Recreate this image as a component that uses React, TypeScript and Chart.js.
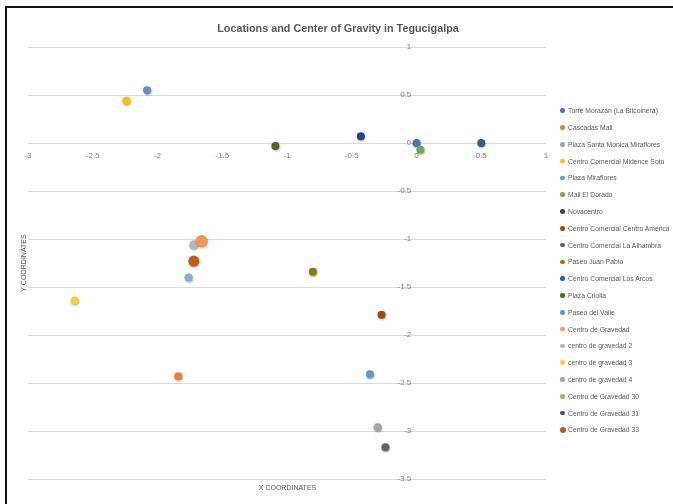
import React, { useEffect, useRef } from "react";
import { Chart, registerables } from "chart.js";

Chart.register(...registerables);

// ---- chart content ----
const CHART_TITLE = "Locations and Center of Gravity in Tegucigalpa";
const X_AXIS_TITLE = "X COORDINATES";
const Y_AXIS_TITLE = "Y COORDINATES";

const locationNames = [
  "Torre Morazán (La Bitcoinera)",
  "Cascadas Mall",
  "Plaza Santa Mónica Miraflores",
  "Centro Comercial Midence Soto",
  "Plaza Miraflores",
  "Mall El Dorado",
  "Novacentro",
  "Centro Comercial Centro América",
  "Centro Comercial La Alhambra",
  "Paseo Juan Pablo",
  "Centro Comercial Los Arcos",
  "Plaza Criolla",
  "Paseo del Valle",
  "Centro de Gravedad",
  "centro de gravedad 2",
  "centro de gravedad 3",
  "centro de gravedad 4",
  "Centro de Gravedad 30",
  "Centro de Gravedad 31",
  "Centro de Gravedad 33",
];

// x / y coordinate of each location (null = no point plotted)
const xCoords: (number | null)[] = [
  0, -1.84, -0.3, -2.24, -0.36, 0.03, -0.43, -0.27, -0.24, -0.8,
  0.5, -1.09, -2.08, -1.66, -1.72, -2.64, -1.76, null, null, -1.72,
];
const yCoords: (number | null)[] = [
  0, -2.43, -2.96, 0.44, -2.41, -0.07, 0.07, -1.79, -3.17, -1.34,
  0, -0.03, 0.55, -1.02, -1.06, -1.64, -1.4, null, null, -1.23,
];

const X_MIN = -3;
const X_MAX = 1;
const Y_MIN = -3.5;
const Y_MAX = 1;
const TICK_STEP = 0.5;

// ---- styling ----
const seriesColors = [
  "#4472C4", "#ED7D31", "#A5A5A5", "#FFC000", "#5B9BD5",
  "#70AD47", "#264478", "#9E480E", "#636363", "#997300",
  "#255E91", "#43682B", "#698ED0", "#F1975A", "#B7B7B7",
  "#FFCD33", "#7CAFDD", "#8CC168", "#2F5597", "#C55A11",
];
const markerRadius = [
  4, 4, 4, 4, 4, 4, 4, 4, 4, 4,
  4, 4, 4, 6, 4.5, 4, 4, 4, 4, 5.5,
];
const legendDot = [
  4.5, 4.5, 4.5, 4.5, 4.5, 4.5, 4.5, 4.5, 4.5, 4.5,
  4.5, 4.5, 4.5, 4.5, 4.5, 4.5, 4.5, 4.5, 4.5, 6,
];
// drawing order tweak: smaller value is painted on top
const drawOrder = [
  0, 0, 0, 0, 0, -1, 0, 0, 0, 0,
  0, 0, 0, 0, 0, 0, 0, 0, 0, 0,
];

const FONT = "'Liberation Sans', Arial, sans-serif";
const TEXT_GRAY = "#595959";
const TICK_GRAY = "#7f7f7f";

const W = 673;
const H = 504;

// soft drop shadow under the markers
const markerShadow = {
  id: "markerShadow",
  beforeDatasetsDraw(chart: any) {
    const ctx = chart.ctx;
    ctx.save();
    ctx.shadowColor = "rgba(0,0,0,0.35)";
    ctx.shadowBlur = 2;
    ctx.shadowOffsetX = 0.5;
    ctx.shadowOffsetY = 1;
  },
  afterDatasetsDraw(chart: any) {
    chart.ctx.restore();
  },
};

const plainNumber = (v: number | string) => String(Number(v));

export default function App() {
  const canvasRef = useRef<HTMLCanvasElement | null>(null);

  useEffect(() => {
    if (!canvasRef.current) return;
    const datasets = locationNames.map((name, i) => ({
      label: name,
      data:
        xCoords[i] === null || yCoords[i] === null
          ? []
          : [{ x: xCoords[i] as number, y: yCoords[i] as number }],
      backgroundColor: seriesColors[i],
      borderColor: seriesColors[i],
      borderWidth: 0,
      pointRadius: markerRadius[i],
      pointHoverRadius: markerRadius[i],
      order: drawOrder[i],
    }));

    const chart = new Chart(canvasRef.current, {
      type: "scatter",
      data: { datasets },
      options: {
        responsive: false,
        animation: false,
        devicePixelRatio: 1,
        layout: { padding: { left: 28, top: 47, right: 127, bottom: 25 } },
        plugins: {
          legend: { display: false },
          title: { display: false },
          tooltip: { enabled: false },
        },
        scales: {
          x: {
            type: "linear",
            position: { y: 0 } as any,
            min: X_MIN,
            max: X_MAX,
            ticks: {
              stepSize: TICK_STEP,
              color: TICK_GRAY,
              font: { family: FONT, size: 8 },
              padding: 8,
              maxRotation: 0,
              autoSkip: false,
              callback: plainNumber,
            },
            grid: { display: false, drawTicks: false },
            border: { display: false },
          },
          y: {
            type: "linear",
            // labels sit just left of x = 0 (axis line itself is hidden)
            position: { x: -0.04 } as any,
            min: Y_MIN,
            max: Y_MAX,
            ticks: {
              stepSize: TICK_STEP,
              color: TICK_GRAY,
              font: { family: FONT, size: 8 },
              autoSkip: false,
              callback: plainNumber,
            },
            grid: { color: "#d9d9d9", lineWidth: 1, drawTicks: false },
            border: { display: false },
          },
        },
      },
      plugins: [markerShadow],
    });
    return () => chart.destroy();
  }, []);

  return (
    <div
      style={{
        position: "fixed",
        left: 0,
        top: 0,
        width: W,
        height: H,
        overflow: "hidden",
        background: "#fff",
        fontFamily: FONT,
      }}
    >
      <canvas
        ref={canvasRef}
        width={W}
        height={H}
        style={{ position: "absolute", left: 0, top: 0, width: W, height: H }}
      />
      {/* frame */}
      <div
        style={{
          position: "absolute",
          left: 5,
          top: 6,
          width: 900,
          height: 900,
          borderTop: "2px solid #111",
          borderLeft: "2px solid #111",
          pointerEvents: "none",
        }}
      />
      {/* title */}
      <div
        style={{
          position: "absolute",
          left: 338,
          top: 27.5,
          transform: "translate(-50%, -50%)",
          whiteSpace: "nowrap",
          fontSize: 10.8,
          color: TEXT_GRAY,
          fontWeight: 700,
        }}
      >
        {CHART_TITLE}
      </div>
      {/* axis titles */}
      <div
        style={{
          position: "absolute",
          left: 287.5,
          top: 487,
          transform: "translate(-50%, -50%)",
          whiteSpace: "nowrap",
          fontSize: 7,
          color: TEXT_GRAY,
        }}
      >
        {X_AXIS_TITLE}
      </div>
      <div
        style={{
          position: "absolute",
          left: 22.5,
          top: 263,
          transform: "translate(-50%, -50%) rotate(-90deg)",
          whiteSpace: "nowrap",
          fontSize: 7,
          color: TEXT_GRAY,
        }}
      >
        {Y_AXIS_TITLE}
      </div>
      {/* legend */}
      {locationNames.map((name, i) => (
        <div
          key={name}
          style={{
            position: "absolute",
            left: 560,
            top: 110.7 + i * 16.8 - 6,
            height: 12,
            display: "flex",
            alignItems: "center",
            whiteSpace: "nowrap",
            fontSize: 6.8,
            color: TEXT_GRAY,
          }}
        >
          <span
            style={{
              display: "inline-block",
              width: legendDot[i],
              height: legendDot[i],
              borderRadius: "50%",
              background: seriesColors[i],
              marginLeft: 2.5 - legendDot[i] / 2,
              marginRight: 8 - 2.5 - legendDot[i] / 2,
            }}
          />
          <span>{name}</span>
        </div>
      ))}
    </div>
  );
}
